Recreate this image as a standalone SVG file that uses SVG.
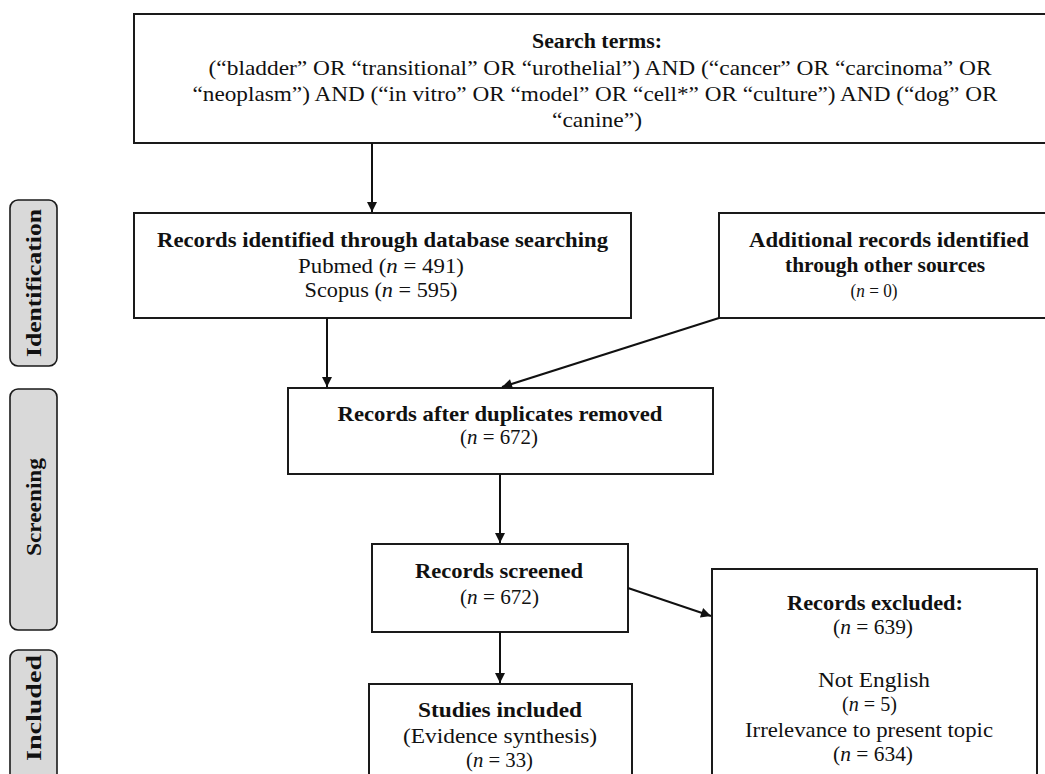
<svg xmlns="http://www.w3.org/2000/svg" width="1045" height="774" viewBox="0 0 1045 774">
<defs>
<style>
.box{fill:#fff;stroke:#1a1a1a;stroke-width:2}
.lab{fill:#d9d9d9;stroke:#1a1a1a;stroke-width:1.6}
text{font-family:"Liberation Serif","Times New Roman",serif;font-size:22px;fill:#111;text-anchor:middle}
.b{font-weight:bold}
.s{font-size:19px}
.con{stroke:#111;stroke-width:2;fill:none;marker-end:url(#ah)}
</style>
<marker id="ah" viewBox="0 0 10 10" refX="10" refY="5" markerWidth="11" markerHeight="10" markerUnits="userSpaceOnUse" orient="auto">
<path d="M0,0 L10,5 L0,10 z" fill="#111"/>
</marker>
</defs>
<rect width="1045" height="774" fill="#fff"/>

<g id="label-identification">
<rect class="lab" x="10" y="200" width="47" height="166" rx="8"/>
<text class="b" transform="translate(41,283) rotate(-90)" textLength="148" lengthAdjust="spacingAndGlyphs">Identification</text>
</g>
<g id="label-screening">
<rect class="lab" x="10" y="389" width="47" height="241" rx="8"/>
<text class="b" transform="translate(41,507) rotate(-90)" textLength="98" lengthAdjust="spacingAndGlyphs">Screening</text>
</g>
<g id="label-included">
<rect class="lab" x="10" y="650" width="47" height="140" rx="8"/>
<text class="b" transform="translate(41,708) rotate(-90)" textLength="106" lengthAdjust="spacingAndGlyphs">Included</text>
</g>

<g id="search-terms">
<rect class="box" x="134" y="14" width="930" height="129"/>
<text class="b" x="597" y="48" textLength="130" lengthAdjust="spacingAndGlyphs">Search terms:</text>
<text x="600" y="75" textLength="783" lengthAdjust="spacingAndGlyphs">(“bladder” OR “transitional” OR “urothelial”) AND (“cancer” OR “carcinoma” OR</text>
<text x="595" y="101" textLength="805" lengthAdjust="spacingAndGlyphs">“neoplasm”) AND (“in vitro” OR “model” OR “cell*” OR “culture”) AND (“dog” OR</text>
<text x="597" y="127" textLength="90" lengthAdjust="spacingAndGlyphs">“canine”)</text>
</g>

<g id="records-identified">
<rect class="box" x="134" y="213" width="497" height="105"/>
<text class="b" x="382.5" y="247" textLength="451" lengthAdjust="spacingAndGlyphs">Records identified through database searching</text>
<text x="381" y="273" textLength="166" lengthAdjust="spacingAndGlyphs">Pubmed (<tspan font-style="italic">n</tspan> = 491)</text>
<text x="381" y="297" textLength="153" lengthAdjust="spacingAndGlyphs">Scopus (<tspan font-style="italic">n</tspan> = 595)</text>
</g>

<g id="additional-records">
<rect class="box" x="719" y="213" width="340" height="105"/>
<text class="b" x="889" y="247" textLength="280" lengthAdjust="spacingAndGlyphs">Additional records identified</text>
<text class="b" x="885" y="272" textLength="200" lengthAdjust="spacingAndGlyphs">through other sources</text>
<text class="s" x="874" y="297" textLength="47" lengthAdjust="spacingAndGlyphs">(<tspan font-style="italic">n</tspan> = 0)</text>
</g>

<g id="after-duplicates">
<rect class="box" x="288" y="388" width="425" height="86"/>
<text class="b" x="500" y="421" textLength="325" lengthAdjust="spacingAndGlyphs">Records after duplicates removed</text>
<text x="499" y="444" textLength="78" lengthAdjust="spacingAndGlyphs">(<tspan font-style="italic">n</tspan> = 672)</text>
</g>

<g id="records-screened">
<rect class="box" x="372" y="544" width="256" height="88"/>
<text class="b" x="499" y="578" textLength="168" lengthAdjust="spacingAndGlyphs">Records screened</text>
<text x="499.5" y="604" textLength="79" lengthAdjust="spacingAndGlyphs">(<tspan font-style="italic">n</tspan> = 672)</text>
</g>

<g id="studies-included">
<rect class="box" x="369" y="684" width="263" height="100"/>
<text class="b" x="500" y="717" textLength="164" lengthAdjust="spacingAndGlyphs">Studies included</text>
<text x="500" y="743" textLength="194" lengthAdjust="spacingAndGlyphs">(Evidence synthesis)</text>
<text x="499.5" y="767" textLength="67" lengthAdjust="spacingAndGlyphs">(<tspan font-style="italic">n</tspan> = 33)</text>
</g>

<g id="records-excluded">
<rect class="box" x="712" y="569" width="325" height="220"/>
<text class="b" x="875" y="610" textLength="176" lengthAdjust="spacingAndGlyphs">Records excluded:</text>
<text x="873" y="634" textLength="80" lengthAdjust="spacingAndGlyphs">(<tspan font-style="italic">n</tspan> = 639)</text>
<text x="874" y="687" textLength="112" lengthAdjust="spacingAndGlyphs">Not English</text>
<text x="869.5" y="711" textLength="55" lengthAdjust="spacingAndGlyphs">(<tspan font-style="italic">n</tspan> = 5)</text>
<text x="869" y="737" textLength="248" lengthAdjust="spacingAndGlyphs">Irrelevance to present topic</text>
<text x="873" y="761" textLength="80" lengthAdjust="spacingAndGlyphs">(<tspan font-style="italic">n</tspan> = 634)</text>
</g>

<g id="connectors">
<line class="con" x1="372" y1="143" x2="372" y2="212"/>
<line class="con" x1="327" y1="318" x2="327" y2="387"/>
<line class="con" x1="719" y1="318" x2="502" y2="387"/>
<line class="con" x1="500" y1="474" x2="500" y2="543"/>
<line class="con" x1="500" y1="632" x2="500" y2="683"/>
<line class="con" x1="628" y1="588" x2="711" y2="616"/>
</g>
</svg>
